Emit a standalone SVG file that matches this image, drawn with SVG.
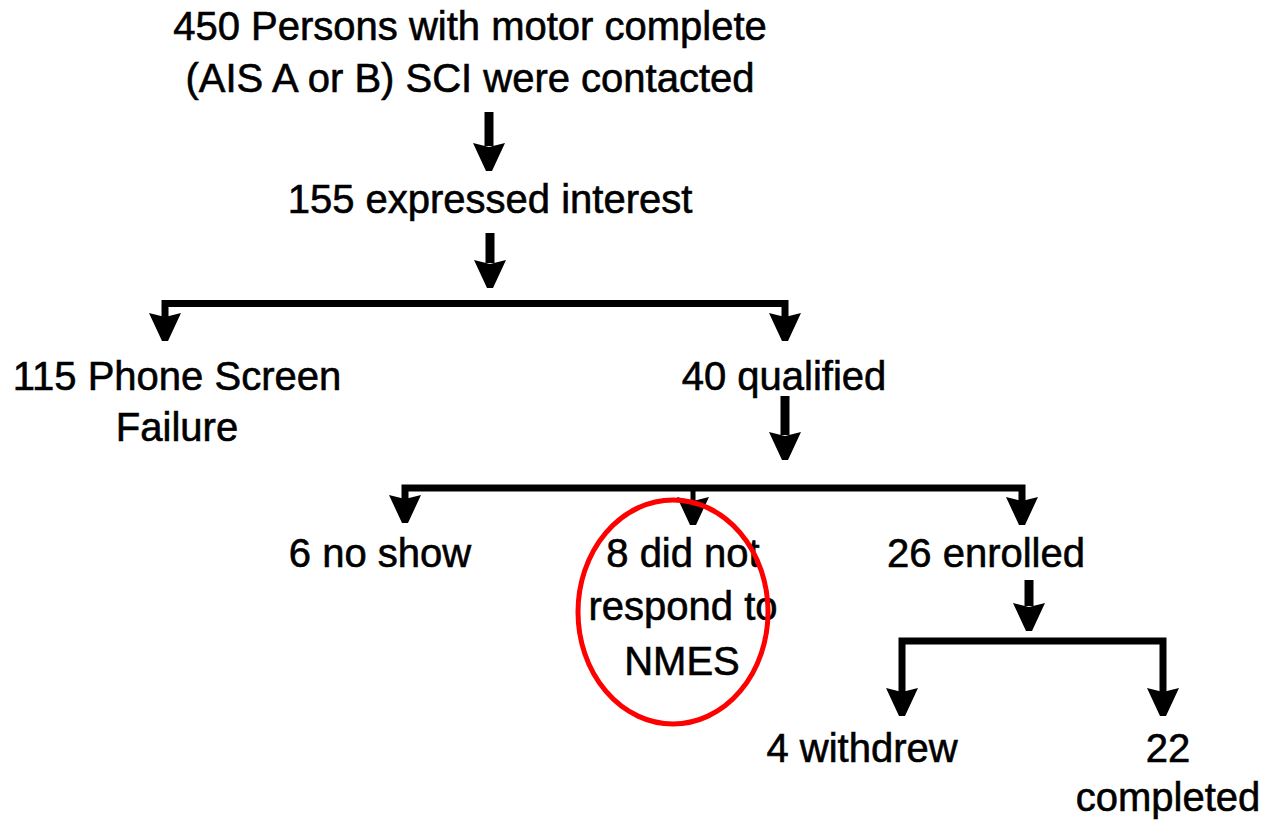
<svg xmlns="http://www.w3.org/2000/svg" xmlns:xlink="http://www.w3.org/1999/xlink" width="1270" height="820" viewBox="0 0 1270 820">
<style>
  text { font-family: "Liberation Sans", Arial, sans-serif; font-size: 40px; fill: #000; text-anchor: middle; stroke: #000; stroke-width: 0.6; }
  .ln { stroke: #000; fill: none; stroke-width: 9; stroke-linecap: butt; }
  .hl { stroke: #000; fill: none; stroke-width: 7; stroke-linecap: square; }
  .thin { stroke: #000; fill: none; stroke-width: 5; }
  .hd { fill: #000; }
</style>
<defs>
  <path id="ah" d="M-16,0 L0,4 L16,0 L3,28 L-3,28 Z"/>
</defs>
<rect width="1270" height="820" fill="#fff"/>
<g id="connectors">
  <!-- contacted -> interest -->
  <line class="ln" x1="489" y1="112" x2="489" y2="146"/>
  <use href="#ah" class="hd" x="489" y="143"/>
  <!-- interest -> split -->
  <line class="ln" x1="490" y1="233" x2="490" y2="263"/>
  <use href="#ah" class="hd" x="490" y="260"/>
  <path class="hl" d="M165,317 V303.5 H785 V317"/>
  <use href="#ah" class="hd" x="165" y="313"/>
  <use href="#ah" class="hd" x="785" y="313"/>
  <!-- qualified -> split -->
  <line class="ln" x1="785" y1="396" x2="785" y2="435"/>
  <use href="#ah" class="hd" x="785" y="432"/>
  <path class="hl" d="M405,498 V488 H1022 V500"/>
  <line class="thin" x1="693" y1="488" x2="693" y2="502"/>
  <use href="#ah" class="hd" x="405" y="495"/>
  <use href="#ah" class="hd" x="693" y="497"/>
  <use href="#ah" class="hd" x="1022" y="497"/>
  <!-- enrolled -> split -->
  <line class="ln" x1="1029" y1="580" x2="1029" y2="606"/>
  <use href="#ah" class="hd" x="1029" y="603"/>
  <path class="hl" d="M902,691 V641 H1163 V691"/>
  <use href="#ah" class="hd" x="902" y="688"/>
  <use href="#ah" class="hd" x="1163" y="688"/>
</g>
<g id="n-contacted">
  <text x="470" y="40">450 Persons with motor complete</text>
  <text x="470" y="92">(AIS A or B) SCI were contacted</text>
</g>
<g id="n-interest">
  <text x="490" y="213">155 expressed interest</text>
</g>
<g id="n-phonefail">
  <text x="177" y="390">115 Phone Screen</text>
  <text x="177" y="441">Failure</text>
</g>
<g id="n-qualified">
  <text x="784" y="390">40 qualified</text>
</g>
<g id="n-noshow">
  <text x="380" y="567">6 no show</text>
</g>
<g id="n-norespond">
  <text x="683" y="567">8 did not</text>
  <text x="683" y="620">respond to</text>
  <text x="682" y="675">NMES</text>
  <ellipse cx="673" cy="612" rx="95" ry="112" fill="none" stroke="#ff0000" stroke-width="5"/>
</g>
<g id="n-enrolled">
  <text x="986" y="567">26 enrolled</text>
</g>
<g id="n-withdrew">
  <text x="862" y="762">4 withdrew</text>
</g>
<g id="n-completed">
  <text x="1168" y="762">22</text>
  <text x="1168" y="811">completed</text>
</g>
</svg>
